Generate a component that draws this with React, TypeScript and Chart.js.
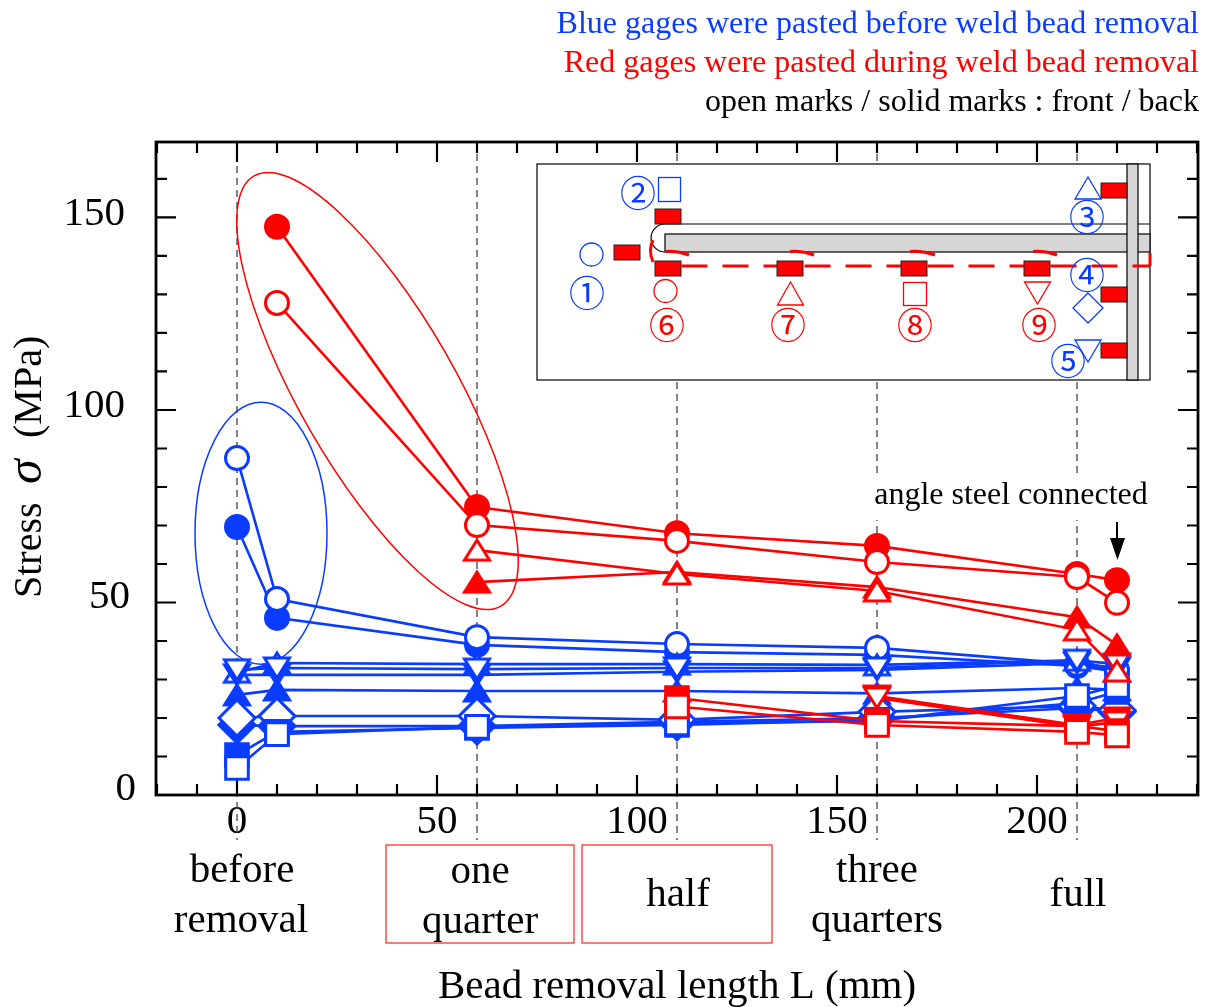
import React, { useEffect, useRef } from "react";
import { Chart, registerables } from "chart.js";

Chart.register(...registerables);

const lengths = [0, 10, 60, 110, 160, 210, 220];

const blueSolidCircle = [69.6, 46, 39, 37.1, 36.4, 33.5, 32];
const blueOpenCircle = [87.5, 50.9, 41, 39.2, 38.2, 34, 32.5];
const blueSolidTriangle = [26, 27.3, 27, 27, 26.4, 27.8, 27.3];
const blueOpenTriangle = [31.9, 34.3, 34, 34, 33.8, 35, 32.2];
const blueSolidInverted = [31.2, 31.2, 31.2, 32, 32.5, 34.3, 33];
const blueOpenInverted = [32.5, 33, 32.7, 33, 33, 35, 34];
const blueSolidDiamond = [18.2, 17.9, 17.9, 19, 20, 22.6, 21.6];
const blueOpenDiamond = [20, 20.5, 20.5, 19.5, 21.6, 23.1, 22];
const blueSolidSquare = [10.4, 16.4, 17.4, 18.2, 19.5, 23.9, 26.8];
const blueOpenSquare = [7, 15.8, 17.7, 18.6, 19.2, 25.7, 28.3];

const redSolidCircle = [null, 147.6, 74.8, 68, 64.7, 57.4, 55.8];
const redOpenCircle = [null, 127.8, 70.1, 66, 60.5, 56.6, 49.9];
const redSolidTriangle = [null, null, 55.3, 57.9, 54, 46.2, 39];
const redOpenTriangle = [null, null, 63.6, 57.4, 53, 42.9, 32.2];
const redSolidInverted = [null, null, null, null, 25.7, 18.2, 20];
const redOpenInverted = [null, null, null, null, 25.2, 17.7, 19];
const redSolidSquare = [null, null, null, 25.2, 19.2, 17.9, 16.6];
const redOpenSquare = [null, null, null, 23, 18.2, 16.4, 15.5];

const stageLines = [0, 60, 110, 160, 210];
const BLUE = "#0a3cff";
const RED = "#ff0000";
const SERIF = "'Liberation Serif'";

type Shape = "circle" | "triangle" | "inverted" | "diamond" | "square";

// Triangle marks centred on their bounding box, as the plotting package drew them.
function triangleMark(color: string, solid: boolean, inverted: boolean) {
  const c = document.createElement("canvas");
  c.width = 40;
  c.height = 40;
  const g = c.getContext("2d")!;
  const dir = inverted ? -1 : 1;
  g.beginPath();
  g.moveTo(20, 20 - dir * 10);
  g.lineTo(32.5, 20 + dir * 10);
  g.lineTo(7.5, 20 + dir * 10);
  g.closePath();
  g.fillStyle = solid ? color : "#fff";
  g.fill();
  g.strokeStyle = color;
  g.lineWidth = 3;
  g.lineJoin = "miter";
  g.stroke();
  return c;
}

function series(label: string, values: (number | null)[], color: string, shape: Shape, solid: boolean) {
  const style =
    shape === "circle"
      ? "circle"
      : shape === "diamond"
        ? "rectRot"
        : shape === "square"
          ? "rect"
          : triangleMark(color, solid, shape === "inverted");
  const radius = { circle: 11.5, triangle: 20, inverted: 20, diamond: 18, square: 16 }[shape];
  return {
    label,
    data: lengths.map((x, i) => ({ x, y: values[i] })),
    borderColor: color,
    borderWidth: 2.6,
    backgroundColor: color,
    tension: 0,
    spanGaps: false,
    pointStyle: style,
    pointRadius: radius,
    pointHoverRadius: radius,
    pointBorderWidth: 3,
    pointBorderColor: color,
    pointBackgroundColor: solid ? color : "#ffffff",
  };
}

function text(ctx: CanvasRenderingContext2D, s: string, x: number, y: number, color = "#000", size = 41, align: CanvasTextAlign = "center") {
  ctx.font = `${size}px ${SERIF}`;
  ctx.fillStyle = color;
  ctx.textAlign = align;
  ctx.textBaseline = "alphabetic";
  ctx.fillText(s, x, y);
}

function circled(ctx: CanvasRenderingContext2D, s: string, x: number, y: number, color: string) {
  ctx.font = `36px 'Noto Sans CJK JP'`;
  ctx.fillStyle = color;
  ctx.textAlign = "center";
  ctx.textBaseline = "middle";
  ctx.fillText(s, x, y);
}

function poly(ctx: CanvasRenderingContext2D, pts: number[][], color: string) {
  ctx.beginPath();
  pts.forEach((p, i) => (i ? ctx.lineTo(p[0], p[1]) : ctx.moveTo(p[0], p[1])));
  ctx.closePath();
  ctx.strokeStyle = color;
  ctx.lineWidth = 1.3;
  ctx.stroke();
}

function oval(ctx: CanvasRenderingContext2D, x: number, y: number, rx: number, ry: number, color: string, rot = 0, lw = 1.3) {
  ctx.beginPath();
  ctx.ellipse(x, y, rx, ry, rot, 0, Math.PI * 2);
  ctx.strokeStyle = color;
  ctx.lineWidth = lw;
  ctx.stroke();
}

function drawInset(ctx: CanvasRenderingContext2D) {
  ctx.save();
  ctx.fillStyle = "#fff";
  ctx.fillRect(537, 164, 613, 216);
  ctx.strokeStyle = "#000";
  ctx.lineWidth = 1.2;
  ctx.strokeRect(537, 164, 613, 216);

  // web, flange and weld toe
  ctx.beginPath();
  ctx.moveTo(665, 224);
  ctx.lineTo(1150, 224);
  ctx.stroke();
  ctx.beginPath();
  ctx.arc(665, 238, 14, Math.PI / 2, (3 * Math.PI) / 2);
  ctx.stroke();
  ctx.fillStyle = "#d6d6d6";
  ctx.fillRect(665, 234, 485, 18);
  ctx.strokeRect(665, 234, 485, 18);
  ctx.fillRect(1127, 164, 11, 216);
  ctx.strokeRect(1127, 164, 11, 216);

  // removed-bead outline
  ctx.strokeStyle = RED;
  ctx.lineWidth = 3;
  ctx.setLineDash([26, 15]);
  ctx.beginPath();
  ctx.moveTo(681.5, 266);
  ctx.lineTo(1150, 266);
  ctx.stroke();
  ctx.setLineDash([]);
  ctx.beginPath();
  ctx.moveTo(1150, 266);
  ctx.lineTo(1150, 253);
  ctx.stroke();
  ctx.beginPath();
  ctx.moveTo(653, 262);
  ctx.quadraticCurveTo(648, 250, 653, 240);
  ctx.stroke();
  for (const [a, b] of [[665, 689], [790, 814], [910, 935], [1033, 1057]]) {
    ctx.beginPath();
    ctx.moveTo(a, 251.5);
    ctx.quadraticCurveTo((a + b) / 2, 250.5, b, 255);
    ctx.stroke();
  }

  // strain gages
  const gages = [
    [655, 209], [614, 245], [655, 261], [777, 261], [901, 261], [1024, 261],
    [1101, 183], [1101, 287], [1101, 343],
  ];
  ctx.fillStyle = RED;
  ctx.strokeStyle = "#222";
  ctx.lineWidth = 1;
  for (const [x, y] of gages) {
    ctx.fillRect(x, y, 26, 15);
    ctx.strokeRect(x, y, 26, 15);
  }

  // key marks
  oval(ctx, 591.5, 254.5, 11.5, 11.5, BLUE);
  ctx.strokeStyle = BLUE;
  ctx.lineWidth = 1.3;
  ctx.strokeRect(658.5, 177.5, 22, 24);
  poly(ctx, [[1088, 177], [1101, 199], [1075, 199]], BLUE);
  poly(ctx, [[1088, 293], [1103, 308], [1088, 323], [1073, 308]], BLUE);
  poly(ctx, [[1075, 340], [1101, 340], [1088, 362]], BLUE);
  oval(ctx, 665.5, 291, 11.5, 11.5, RED);
  poly(ctx, [[790.5, 282], [803.5, 305], [777.5, 305]], RED);
  ctx.strokeStyle = RED;
  ctx.lineWidth = 1.3;
  ctx.strokeRect(903.5, 282.5, 23, 23);
  poly(ctx, [[1024.5, 282], [1050.5, 282], [1037.5, 304]], RED);

  circled(ctx, "①", 587, 293, BLUE);
  circled(ctx, "②", 638, 193, BLUE);
  circled(ctx, "③", 1087, 217, BLUE);
  circled(ctx, "④", 1087, 275, BLUE);
  circled(ctx, "⑤", 1068, 361, BLUE);
  circled(ctx, "⑥", 667, 325, RED);
  circled(ctx, "⑦", 788, 325, RED);
  circled(ctx, "⑧", 915, 325, RED);
  circled(ctx, "⑨", 1039, 325, RED);
  ctx.restore();
}

const furniture = {
  id: "furniture",
  beforeDatasetsDraw(chart: any) {
    const ctx: CanvasRenderingContext2D = chart.ctx;
    const { left, right, top, bottom } = chart.chartArea;
    const xs = chart.scales.x;
    const ys = chart.scales.y;
    ctx.save();

    // stage guide lines
    ctx.strokeStyle = "#333";
    ctx.lineWidth = 1.2;
    ctx.setLineDash([7, 5]);
    for (const v of stageLines) {
      const px = xs.getPixelForValue(v);
      ctx.beginPath();
      ctx.moveTo(px, top);
      ctx.lineTo(px, 840);
      ctx.stroke();
    }
    ctx.setLineDash([]);

    // inward ticks on all four sides
    ctx.strokeStyle = "#000";
    ctx.lineWidth = 2.2;
    for (const t of xs.ticks) {
      const px = xs.getPixelForValue(t.value);
      const len = t.value % 50 === 0 ? 20 : 11;
      ctx.beginPath();
      ctx.moveTo(px, bottom);
      ctx.lineTo(px, bottom - len);
      ctx.moveTo(px, top);
      ctx.lineTo(px, top + len);
      ctx.stroke();
    }
    for (const t of ys.ticks) {
      const py = ys.getPixelForValue(t.value);
      const len = t.value % 50 === 0 ? 20 : 11;
      ctx.beginPath();
      ctx.moveTo(left, py);
      ctx.lineTo(left + len, py);
      ctx.moveTo(right, py);
      ctx.lineTo(right - len, py);
      ctx.stroke();
    }
    ctx.lineWidth = 2.8;
    ctx.strokeRect(left, top, right - left, bottom - top);

    // y tick labels
    text(ctx, "150", 125, 225, "#000", 41, "right");
    text(ctx, "100", 125, 417, "#000", 41, "right");
    text(ctx, "50", 130, 608, "#000", 41, "right");
    text(ctx, "0", 136, 800, "#000", 41, "right");

    // highlight ellipses
    oval(ctx, xs.getPixelForValue(6), ys.getPixelForValue(68), 66, 131, BLUE, 0, 1.5);
    oval(ctx, 377.5, 391, 248, 78, RED, (60.15 * Math.PI) / 180, 1.5);

    drawInset(ctx);

    // annotation with its white backing
    ctx.fillStyle = "#fff";
    ctx.fillRect(868, 478, 284, 42);
    text(ctx, "angle steel connected", 1011, 504, "#000", 32);
    ctx.strokeStyle = "#000";
    ctx.lineWidth = 2;
    ctx.beginPath();
    ctx.moveTo(1117, 522);
    ctx.lineTo(1117, 540);
    ctx.stroke();
    ctx.fillStyle = "#000";
    ctx.beginPath();
    ctx.moveTo(1110, 538);
    ctx.lineTo(1125, 538);
    ctx.lineTo(1117.5, 560);
    ctx.closePath();
    ctx.fill();

    // header
    text(ctx, "Blue gages were pasted before weld bead removal", 1199, 33, BLUE, 32, "right");
    text(ctx, "Red gages were pasted during weld bead removal", 1199, 72, RED, 32, "right");
    text(ctx, "open marks / solid marks : front / back", 1199, 111, "#000", 32, "right");

    // stage labels
    ctx.strokeStyle = "#ff2020";
    ctx.lineWidth = 1.2;
    ctx.strokeRect(386, 845, 188, 98);
    ctx.strokeRect(582, 845, 190, 98);
    text(ctx, "before", 242, 882);
    text(ctx, "removal", 241, 932);
    text(ctx, "one", 480, 883);
    text(ctx, "quarter", 480, 933);
    text(ctx, "half", 678, 906);
    text(ctx, "three", 877, 882);
    text(ctx, "quarters", 877, 932);
    text(ctx, "full", 1078, 906);

    // y axis title with italic sigma
    ctx.translate(41, 598);
    ctx.rotate(-Math.PI / 2);
    text(ctx, "Stress", 0, 0, "#000", 40, "left");
    ctx.font = `italic 50px ${SERIF}`;
    ctx.fillStyle = "#000";
    ctx.textAlign = "left";
    ctx.fillText("σ", 114, 0);
    text(ctx, "(MPa)", 160, 0, "#000", 40, "left");
    ctx.restore();
  },
};

export default function App() {
  const ref = useRef<HTMLCanvasElement>(null);
  useEffect(() => {
    const datasets = [
      series("1 back", blueSolidCircle, BLUE, "circle", true),
      series("1 front", blueOpenCircle, BLUE, "circle", false),
      series("3 back", blueSolidTriangle, BLUE, "triangle", true),
      series("3 front", blueOpenTriangle, BLUE, "triangle", false),
      series("5 back", blueSolidInverted, BLUE, "inverted", true),
      series("5 front", blueOpenInverted, BLUE, "inverted", false),
      series("4 back", blueSolidDiamond, BLUE, "diamond", true),
      series("4 front", blueOpenDiamond, BLUE, "diamond", false),
      series("2 back", blueSolidSquare, BLUE, "square", true),
      series("2 front", blueOpenSquare, BLUE, "square", false),
      series("6 back", redSolidCircle, RED, "circle", true),
      series("6 front", redOpenCircle, RED, "circle", false),
      series("7 back", redSolidTriangle, RED, "triangle", true),
      series("7 front", redOpenTriangle, RED, "triangle", false),
      series("9 back", redSolidInverted, RED, "inverted", true),
      series("9 front", redOpenInverted, RED, "inverted", false),
      series("8 back", redSolidSquare, RED, "square", true),
      series("8 front", redOpenSquare, RED, "square", false),
    ].map((d, i, all) => ({ ...d, order: all.length - i }));

    const chart = new Chart(ref.current!, {
      type: "line",
      data: { datasets } as any,
      plugins: [furniture],
      options: {
        animation: false,
        responsive: false,
        devicePixelRatio: 1,
        layout: { autoPadding: false, padding: { top: 142, right: 11, left: 0, bottom: 0 } },
        plugins: { legend: { display: false }, tooltip: { enabled: false } },
        scales: {
          x: {
            type: "linear",
            min: -20.25,
            max: 240.25,
            grid: { display: false, drawTicks: false },
            border: { display: false },
            afterFit(scale: any) {
              scale.height = 212;
              scale.paddingLeft = 0;
              scale.paddingRight = 0;
            },
            ticks: {
              stepSize: 10,
              includeBounds: false,
              autoSkip: false,
              maxRotation: 0,
              padding: 3,
              color: "#000",
              font: { family: SERIF, size: 41 },
              callback: (v: any) => (Number(v) % 50 === 0 ? String(v) : ""),
            },
            title: {
              display: true,
              text: "Bead removal length L (mm)",
              color: "#000",
              font: { family: SERIF, size: 41 },
              padding: { top: 0, bottom: -5 },
            },
          },
          y: {
            type: "linear",
            min: 0,
            max: 169.6,
            grid: { display: false, drawTicks: false },
            border: { display: false },
            afterFit(scale: any) {
              scale.width = 156;
            },
            ticks: {
              stepSize: 10,
              includeBounds: false,
              display: false,
            },
          },
        },
      } as any,
    });
    return () => chart.destroy();
  }, []);
  return (
    <div style={{ position: "absolute", left: 0, top: 0 }}>
      <canvas ref={ref} width={1209} height={1007} style={{ display: "block" }} />
    </div>
  );
}
